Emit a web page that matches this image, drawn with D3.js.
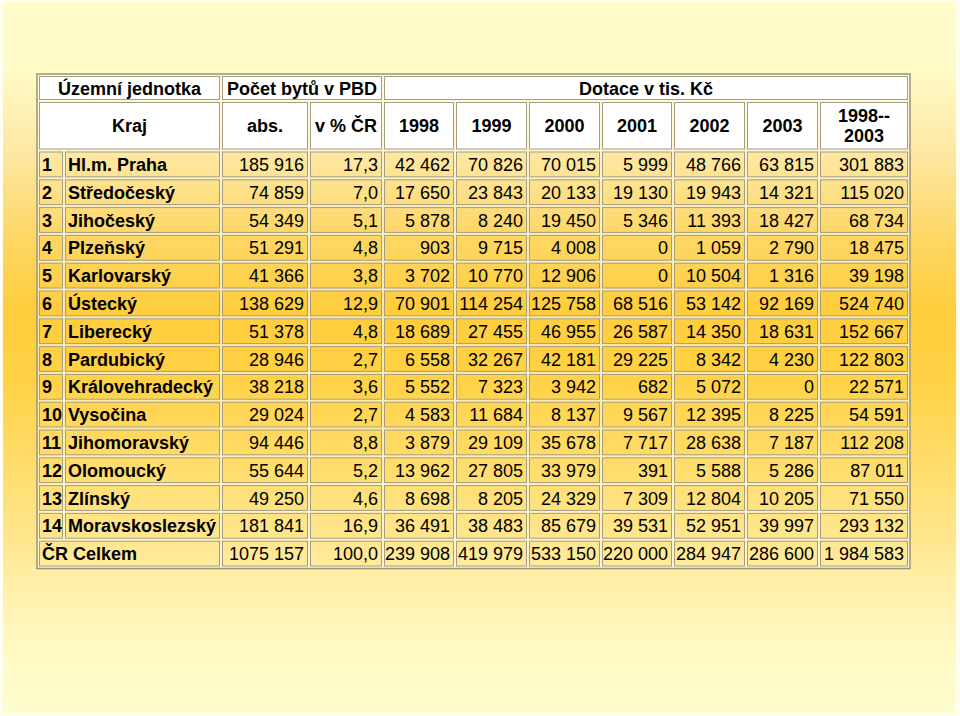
<!DOCTYPE html>
<html><head><meta charset="utf-8">
<script src="https://cdn.jsdelivr.net/npm/d3@7"></script>
<style>html,body{margin:0;padding:0;background:#fff;}svg{display:block;}</style>
</head><body>
<svg id="c" width="960" height="716"></svg>
<script>
// ---- data ----
const regions = ["Hl.m. Praha","Středočeský","Jihočeský","Plzeňský","Karlovarský","Ústecký","Liberecký","Pardubický","Královehradecký","Vysočina","Jihomoravský","Olomoucký","Zlínský","Moravskoslezský"];
const totalLabel = "ČR Celkem";
const absFlats = [185916,74859,54349,51291,41366,138629,51378,28946,38218,29024,94446,55644,49250,181841];
const absTotalLabel = "1075 157";
const pctCR = [17.3,7.0,5.1,4.8,3.8,12.9,4.8,2.7,3.6,2.7,8.8,5.2,4.6,16.9];
const pctTotal = 100.0;
const years = ["1998","1999","2000","2001","2002","2003"];
const y1998 = [42462,17650,5878,903,3702,70901,18689,6558,5552,4583,3879,13962,8698,36491];
const y1999 = [70826,23843,8240,9715,10770,114254,27455,32267,7323,11684,29109,27805,8205,38483];
const y2000 = [70015,20133,19450,4008,12906,125758,46955,42181,3942,8137,35678,33979,24329,85679];
const y2001 = [5999,19130,5346,0,0,68516,26587,29225,682,9567,7717,391,7309,39531];
const y2002 = [48766,19943,11393,1059,10504,53142,14350,8342,5072,12395,28638,5588,12804,52951];
const y2003 = [63815,14321,18427,2790,1316,92169,18631,4230,0,8225,7187,5286,10205,39997];
const ySum = [301883,115020,68734,18475,39198,524740,152667,122803,22571,54591,112208,87011,71550,293132];
const yearTotals = [239908,419979,533150,220000,284947,286600];
const sumTotal = 1984583;
const headTop = ["Územní jednotka","Počet bytů v PBD","Dotace v tis. Kč"];
const headSub = ["Kraj","abs.","v % ČR","1998","1999","2000","2001","2002","2003","1998--\n2003"];

// ---- layout ----
const colW = [26,157,88,74,72,73,73,72,73,73,90];
const tableX = 38;
const edges = [tableX];
colW.forEach(w => edges.push(edges[edges.length-1] + w));
const hTop = 75, hMid = 101, bodyTop = 150.5, rowH = 27.8;

const loc = d3.formatLocale({decimal:",", thousands:" ", grouping:[3], currency:["",""]});
const fInt = loc.format(",d");
const fPct = loc.format(",.1f");

const svg = d3.select("#c");
const defs = svg.append("defs");
const g = defs.append("linearGradient").attr("id","bg").attr("gradientUnits","userSpaceOnUse")
  .attr("x1",0).attr("y1",0).attr("x2",0).attr("y2",716);
[[0,"#fffdcc"],[0.1,"#fffac6"],[0.22,"#fde7a0"],[0.33,"#fdd766"],[0.43,"#ffcd3c"],[0.52,"#ffd143"],[0.65,"#ffdd6c"],[0.75,"#ffe68d"],[0.85,"#fff3b6"],[0.94,"#fffcc8"],[1,"#fffdcf"]]
  .forEach(([o,c]) => g.append("stop").attr("offset",o).attr("stop-color",c));

svg.append("rect").attr("width",960).attr("height",716).attr("fill","#fffef0");
svg.append("rect").attr("x",3).attr("y",2).attr("width",953).attr("height",711).attr("fill","url(#bg)");

// rows
const rowIdx = d3.range(regions.length + 1);
const yBand = d3.scaleBand().domain(rowIdx).range([bodyTop, bodyTop + rowH*rowIdx.length]).paddingInner(0);
const tableBottom = bodyTop + rowH*rowIdx.length;

// table backing (gaps between cells)
svg.append("rect").attr("x",edges[0]-1).attr("y",hTop-1).attr("width",edges[edges.length-1]-edges[0]+2)
  .attr("height",tableBottom-hTop+2).attr("fill","rgba(255,255,255,0.55)")
  .attr("stroke","#9b9478").attr("stroke-width",1.5);

const cells = [];
// header row 1
cells.push({c0:0,c1:2,y0:hTop,y1:hMid,head:true,lines:[headTop[0]],align:"middle",bold:true});
cells.push({c0:2,c1:4,y0:hTop,y1:hMid,head:true,lines:[headTop[1]],align:"middle",bold:true});
cells.push({c0:4,c1:11,y0:hTop,y1:hMid,head:true,lines:[headTop[2]],align:"middle",bold:true});
// header row 2
headSub.forEach((t,i) => {
  const c0 = i===0 ? 0 : i+1, c1 = i===0 ? 2 : i+2;
  cells.push({c0,c1,y0:hMid,y1:bodyTop,head:true,lines:t.split("\n"),align:"middle",bold:true});
});
// body
const seriesCols = [y1998,y1999,y2000,y2001,y2002,y2003,ySum];
rowIdx.forEach(r => {
  const y0 = yBand(r), y1 = y0 + yBand.bandwidth();
  const isTot = r === regions.length;
  if (isTot) {
    cells.push({c0:0,c1:2,y0,y1,lines:[totalLabel],align:"start",bold:true});
    cells.push({c0:2,c1:3,y0,y1,lines:[absTotalLabel],align:"end"});
    cells.push({c0:3,c1:4,y0,y1,lines:[fPct(pctTotal)],align:"end"});
    yearTotals.concat([sumTotal]).forEach((v,i) => cells.push({c0:4+i,c1:5+i,y0,y1,lines:[fInt(v)],align:"end"}));
  } else {
    cells.push({c0:0,c1:1,y0,y1,lines:[String(r+1)],align:"start",bold:true});
    cells.push({c0:1,c1:2,y0,y1,lines:[regions[r]],align:"start",bold:true,padL:4});
    cells.push({c0:2,c1:3,y0,y1,lines:[fInt(absFlats[r])],align:"end"});
    cells.push({c0:3,c1:4,y0,y1,lines:[fPct(pctCR[r])],align:"end"});
    seriesCols.forEach((s,i) => cells.push({c0:4+i,c1:5+i,y0,y1,lines:[fInt(s[r])],align:"end"}));
  }
});

const cg = svg.append("g").selectAll("g").data(cells).join("g");
cg.append("rect")
  .attr("x", d => edges[d.c0] + 1.5)
  .attr("y", d => d.y0 + 1.5)
  .attr("width", d => edges[d.c1] - edges[d.c0] - 3)
  .attr("height", d => d.y1 - d.y0 - 3)
  .attr("fill", d => d.head ? "#ffffff" : "url(#bg)")
  .attr("stroke", "#a49d82").attr("stroke-width", 1);

cg.each(function(d){
  const sel = d3.select(this);
  const x = d.align === "middle" ? (edges[d.c0]+edges[d.c1])/2
          : d.align === "start" ? edges[d.c0] + (d.padL||4)
          : edges[d.c1] - 5;
  const cy = (d.y0 + d.y1)/2;
  const n = d.lines.length, lh = 20;
  d.lines.forEach((t,k) => {
    sel.append("text")
      .attr("x", x)
      .attr("y", cy + (k - (n-1)/2)*lh + 6.5)
      .attr("text-anchor", d.align)
      .attr("font-family", "Liberation Sans, Arial, sans-serif")
      .attr("font-size", 18)
      .attr("font-weight", d.bold ? "bold" : "normal")
      .attr("fill", "#000")
      .text(t);
  });
});
</script>
</body></html>
